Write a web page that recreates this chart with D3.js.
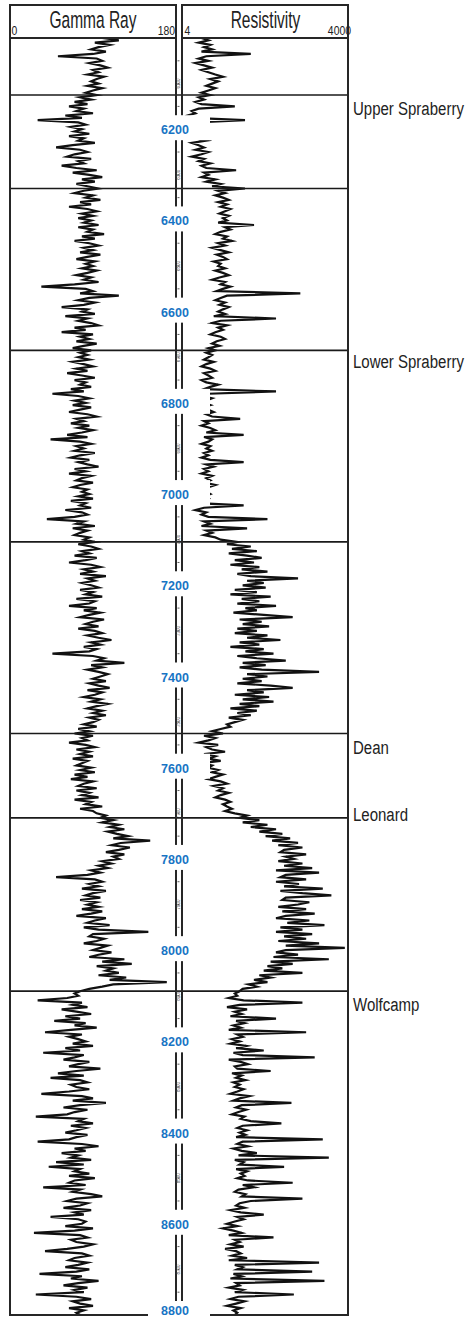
<!DOCTYPE html>
<html>
<head>
<meta charset="utf-8">
<script src="https://cdn.jsdelivr.net/npm/d3@7"></script>
<style>
  html, body { margin: 0; padding: 0; background: #fff; }
  svg { display: block; }
</style>
</head>
<body>
<div id="chart"></div>
<script>
// Depth sampling: one reading every 5 ft from 6000 to 8800 ft
const depthStart = 6000;
const depthEnd = 8800;
const depthStep = 5;

// Gamma ray readings (API units), 20 per row = 100 ft per row
const gammaRay = [
  100, 118, 92, 108, 96, 88, 104, 90, 52, 94, 100, 86, 98, 106, 90, 96, 84, 102, 94, 88,
  96, 84, 100, 90, 82, 94, 76, 88, 70, 84, 64, 80, 72, 90, 60, 78, 30, 74, 82, 66,
  78, 70, 86, 64, 80, 74, 92, 68, 50, 76, 84, 70, 62, 88, 74, 80, 56, 72, 94, 68,
  86, 100, 78, 92, 72, 84, 96, 80, 70, 90, 82, 98, 76, 88, 64, 84, 94, 78, 90, 74,
  88, 80, 96, 74, 90, 84, 102, 78, 92, 70, 86, 96, 80, 90, 76, 98, 84, 72, 92, 82,
  90, 78, 94, 84, 72, 88, 80, 96, 70, 34, 82, 90, 76, 118, 86, 74, 92, 80, 56, 84,
  78, 92, 60, 84, 74, 88, 96, 70, 82, 56, 90, 76, 86, 72, 94, 80, 68, 88, 76, 84,
  74, 86, 68, 80, 90, 72, 84, 62, 78, 92, 70, 82, 76, 88, 66, 80, 46, 74, 86, 70,
  82, 68, 88, 76, 64, 84, 94, 72, 80, 66, 86, 74, 90, 78, 62, 84, 44, 76, 88, 72,
  80, 70, 92, 76, 66, 86, 74, 84, 96, 70, 82, 64, 88, 78, 72, 90, 76, 68, 84, 78,
  86, 74, 90, 66, 82, 76, 88, 60, 78, 84, 70, 40, 80, 72, 92, 68, 84, 76, 70, 86,
  80, 92, 74, 88, 96, 78, 86, 70, 94, 82, 64, 88, 98, 80, 90, 76, 104, 84, 92, 78,
  88, 96, 76, 90, 82, 100, 72, 92, 86, 64, 94, 80, 98, 86, 76, 102, 90, 82, 96, 74,
  92, 100, 84, 96, 110, 88, 98, 80, 94, 86, 46, 90, 102, 94, 124, 88, 100, 84, 96, 106,
  98, 90, 104, 86, 96, 108, 84, 100, 92, 80, 98, 88, 106, 94, 84, 100, 90, 104, 86, 96,
  90, 80, 94, 74, 86, 70, 90, 78, 84, 64, 82, 92, 72, 86, 76, 90, 68, 84, 78, 72,
  88, 76, 92, 70, 84, 66, 90, 80, 74, 94, 72, 86, 78, 96, 70, 88, 82, 100, 76, 90,
  94, 104, 98, 112, 100, 118, 108, 124, 106, 116, 128, 112, 152, 120, 110, 130, 118, 104, 124, 112,
  118, 100, 110, 96, 106, 88, 98, 84, 50, 92, 100, 86, 96, 78, 104, 90, 82, 98, 76, 94,
  84, 96, 78, 100, 88, 72, 104, 92, 84, 108, 80, 96, 150, 90, 86, 102, 94, 80, 106, 98,
  90, 110, 96, 86, 124, 100, 132, 94, 112, 104, 118, 96, 126, 108, 170, 112, 100, 86, 76, 70,
  74, 62, 30, 78, 68, 84, 56, 72, 88, 60, 76, 48, 82, 70, 94, 66, 38, 78, 64, 74,
  82, 68, 90, 60, 76, 36, 80, 70, 58, 86, 74, 64, 98, 72, 52, 80, 44, 76, 84, 66,
  72, 86, 64, 34, 78, 90, 68, 104, 76, 58, 84, 70, 62, 28, 80, 74, 90, 66, 82, 72,
  60, 84, 72, 64, 30, 78, 96, 70, 82, 56, 74, 66, 88, 50, 80, 42, 76, 70, 86, 64,
  92, 70, 64, 82, 36, 76, 68, 88, 100, 72, 62, 84, 76, 58, 88, 70, 80, 44, 74, 82,
  78, 60, 90, 70, 26, 76, 84, 66, 72, 90, 80, 62, 38, 78, 86, 70, 64, 84, 74, 60,
  86, 72, 32, 78, 66, 96, 74, 58, 84, 70, 80, 28, 72, 88, 68, 76, 90, 64, 80, 72,
  76
];

// Deep resistivity readings (ohm-m), same depth sampling
const resistivity = [
  9, 12, 8, 13, 10, 14, 9, 70, 11, 8, 12, 7, 10, 14, 9, 12, 16, 22, 13, 18,
  14, 11, 16, 12, 9, 13, 8, 10, 7, 9, 36, 8, 6, 7, 5, 6, 55, 7, 9, 6,
  6, 8, 5, 9, 7, 11, 6, 8, 10, 7, 12, 9, 6, 10, 8, 13, 9, 11, 38, 10,
  12, 9, 16, 11, 20, 14, 55, 18, 24, 16, 22, 28, 18, 26, 20, 30, 24, 19, 28, 22,
  26, 18, 80, 24, 30, 20, 16, 26, 22, 32, 18, 24, 14, 20, 28, 17, 22, 26, 15, 20,
  18, 24, 16, 22, 28, 19, 14, 24, 20, 30, 22, 17, 550, 26, 20, 16, 24, 19, 28, 22,
  18, 24, 15, 200, 20, 14, 26, 18, 22, 16, 13, 20, 24, 17, 14, 19, 12, 16, 11, 14,
  12, 10, 15, 11, 9, 13, 16, 10, 12, 14, 9, 11, 18, 13, 10, 200, 12, 9, 14, 11,
  10, 13, 9, 12, 15, 11, 14, 45, 10, 12, 9, 13, 16, 11, 52, 10, 14, 12, 9, 13,
  11, 14, 10, 12, 9, 13, 52, 11, 15, 10, 12, 9, 14, 11, 13, 10, 16, 12, 9, 11,
  13, 10, 12, 9, 8, 52, 10, 7, 11, 9, 12, 140, 10, 13, 9, 60, 11, 14, 10, 16,
  20, 40, 26, 70, 32, 90, 28, 60, 110, 36, 80, 30, 100, 48, 140, 40, 70, 500, 60, 120,
  50, 130, 36, 90, 30, 160, 48, 100, 40, 200, 56, 90, 34, 120, 400, 44, 110, 50, 150, 40,
  90, 36, 140, 60, 240, 44, 100, 30, 120, 56, 180, 40, 90, 300, 50, 130, 44, 110, 1200, 60,
  140, 50, 110, 40, 160, 400, 60, 120, 36, 150, 50, 180, 44, 100, 30, 90, 40, 70, 28, 50,
  36, 26, 30, 20, 14, 22, 10, 16, 12, 8, 18, 11, 14, 24, 10, 16, 12, 20, 9, 14,
  12, 18, 14, 22, 16, 12, 20, 26, 15, 22, 18, 28, 20, 16, 24, 30, 22, 26, 32, 24,
  36, 60, 44, 100, 50, 140, 70, 200, 100, 260, 130, 360, 170, 500, 220, 600, 280, 240, 700, 300,
  420, 220, 600, 280, 900, 200, 1200, 300, 240, 700, 200, 520, 280, 1400, 240, 600, 2000, 300, 260, 800,
  500, 220, 700, 260, 1000, 300, 200, 800, 320, 1500, 240, 600, 200, 900, 280, 700, 220, 1200, 300, 3500,
  300, 200, 500, 180, 1800, 160, 400, 140, 260, 120, 600, 100, 160, 80, 140, 64, 90, 50, 44, 36,
  40, 28, 52, 600, 44, 26, 60, 36, 48, 30, 200, 38, 54, 34, 46, 28, 700, 40, 50, 32,
  44, 30, 58, 38, 120, 34, 50, 1000, 28, 46, 62, 36, 40, 160, 32, 48, 38, 56, 34, 44,
  36, 52, 40, 30, 66, 44, 34, 380, 48, 38, 58, 42, 32, 54, 46, 70, 250, 50, 40, 60,
  44, 56, 38, 1400, 50, 40, 62, 34, 48, 90, 42, 1800, 36, 52, 44, 280, 38, 60, 46, 54,
  40, 62, 400, 50, 80, 42, 36, 56, 48, 600, 70, 44, 38, 54, 30, 46, 120, 40, 52, 36,
  26, 40, 22, 34, 48, 28, 180, 36, 44, 30, 52, 24, 38, 46, 32, 60, 28, 1200, 36, 50,
  40, 900, 34, 48, 30, 1500, 38, 44, 28, 50, 36, 420, 42, 30, 54, 38, 26, 46, 34, 40,
  36
];

// Formation tops (ft): every correlation line, then the named ones
const topDepths = [6125, 6330, 6685, 7105, 7525, 7710, 8090];
const formationNames = ["Upper Spraberry", "Lower Spraberry", "Dean", "Leonard", "Wolfcamp"];
const formationLabelDepths = [6153, 6709, 7554, 7701, 8117];

// Depth annotations along the centre column
const depthLabels = [6200, 6400, 6600, 6800, 7000, 7200, 7400, 7600, 7800, 8000, 8200, 8400, 8600, 8800];

// Track scale ends
const gammaDomain = [0, 180];
const resDomain = [4, 4000];
const trackTitles = ["Gamma Ray", "Resistivity"];

const width = 470, height = 1318;
const sans = "'Liberation Sans', Arial, Helvetica, sans-serif";

const svg = d3.select("#chart").append("svg")
  .attr("width", width).attr("height", height)
  .attr("viewBox", `0 0 ${width} ${height}`);

svg.append("rect").attr("width", width).attr("height", height).attr("fill", "#fff");

const frameTop = 5, headerBottom = 38, frameBottom = 1315;
const grLeft = 10, grRight = 176, resLeft = 182, resRight = 348;

const y = d3.scaleLinear().domain([depthStart, depthEnd]).range([headerBottom, frameBottom]);
const xGR = d3.scaleLinear().domain(gammaDomain).range([grLeft, grRight]).clamp(true);
const xRes = d3.scaleLog().domain(resDomain).range([resLeft, resRight]).clamp(true);

const grData = gammaRay.map((v, i) => ({ depth: depthStart + i * depthStep, v }));
const resData = resistivity.map((v, i) => ({ depth: depthStart + i * depthStep, v }));

const defs = svg.append("defs");
defs.append("clipPath").attr("id", "clip-gr").append("rect")
  .attr("x", grLeft).attr("y", headerBottom).attr("width", grRight - grLeft).attr("height", frameBottom - headerBottom);
defs.append("clipPath").attr("id", "clip-res").append("rect")
  .attr("x", resLeft).attr("y", headerBottom).attr("width", resRight - resLeft).attr("height", frameBottom - headerBottom);

// Condensed text helper (horizontal squeeze of a regular sans face)
function condensed(g, x, yPos, str, size, sx, anchor) {
  return g.append("text")
    .attr("transform", `translate(${x},${yPos}) scale(${sx},1)`)
    .attr("text-anchor", anchor || "start")
    .attr("font-family", sans).attr("font-size", size)
    .text(str);
}

// Log curves
const grLine = d3.line().x(d => xGR(d.v)).y(d => y(d.depth));
const resLine = d3.line().x(d => xRes(d.v)).y(d => y(d.depth));

svg.append("path").datum(grData)
  .attr("clip-path", "url(#clip-gr)")
  .attr("d", grLine)
  .attr("fill", "none").attr("stroke", "#111").attr("stroke-width", 2.2)
  .attr("stroke-linejoin", "miter").attr("stroke-miterlimit", 6);

svg.append("path").datum(resData)
  .attr("clip-path", "url(#clip-res)")
  .attr("d", resLine)
  .attr("fill", "none").attr("stroke", "#111").attr("stroke-width", 2.2)
  .attr("stroke-linejoin", "miter").attr("stroke-miterlimit", 6);

// Formation top lines across both tracks
svg.append("g").selectAll("line").data(topDepths).join("line")
  .attr("x1", grLeft).attr("x2", resRight)
  .attr("y1", d => y(d)).attr("y2", d => y(d))
  .attr("stroke", "#1a1a1a").attr("stroke-width", 1.7);

// Track frames
const frame = svg.append("g").attr("fill", "none").attr("stroke", "#262626").attr("stroke-width", 2);
[[grLeft, grRight], [resLeft, resRight]].forEach(([a, b]) => {
  frame.append("rect").attr("x", a).attr("y", frameTop).attr("width", b - a).attr("height", frameBottom - frameTop);
  frame.append("line").attr("x1", a).attr("x2", b).attr("y1", headerBottom).attr("y2", headerBottom);
});

// Centre depth column: small ticks and tiny rotated depth numbers
const col = svg.append("g");
col.selectAll("line").data(d3.range(depthStart + 50, depthEnd, 50)).join("line")
  .attr("x1", grRight + 1.5).attr("x2", grRight + 3.5)
  .attr("y1", d => y(d)).attr("y2", d => y(d))
  .attr("stroke", "#333").attr("stroke-width", 0.8);
col.selectAll("text").data(d3.range(depthStart + 100, depthEnd, 200)).join("text")
  .attr("transform", d => `translate(${grRight + 4.4},${y(d)}) rotate(-90)`)
  .attr("text-anchor", "middle")
  .attr("font-family", sans).attr("font-size", 4.5).attr("fill", "#444")
  .text(d => d);

// Depth labels on white patches
const lab = svg.append("g");
lab.selectAll("rect").data(depthLabels).join("rect")
  .attr("x", 148).attr("width", 62)
  .attr("y", d => y(d) - 14).attr("height", 25)
  .attr("fill", "#fff");
lab.selectAll("text").data(depthLabels).join("text")
  .attr("x", 175).attr("y", d => Math.min(y(d) + 5, height - 3.5))
  .attr("text-anchor", "middle")
  .attr("font-family", sans)
  .attr("font-weight", "bold").attr("font-size", 12.5)
  .attr("fill", "#1874c4")
  .text(d => d);

// Header titles and scale ends
const head = svg.append("g").attr("fill", "#222");
condensed(head, (grLeft + grRight) / 2, 28, trackTitles[0], 23.5, 0.66, "middle");
condensed(head, (resLeft + resRight) / 2 + 0.5, 28, trackTitles[1], 23.5, 0.66, "middle");
condensed(head, grLeft + 1.5, 35, gammaDomain[0], 13, 0.8, "start");
condensed(head, grRight - 1, 35, gammaDomain[1], 13, 0.8, "end");
condensed(head, resLeft + 2.5, 35, resDomain[0], 13, 0.8, "start");
condensed(head, resRight + 3, 35, resDomain[1], 13, 0.8, "end");

// Formation names to the right of the tracks
const names = svg.append("g").attr("fill", "#222");
formationNames.forEach((n, i) => {
  condensed(names, 353, y(formationLabelDepths[i]) + 7, n, 19, 0.79, "start");
});
</script>
</body>
</html>
